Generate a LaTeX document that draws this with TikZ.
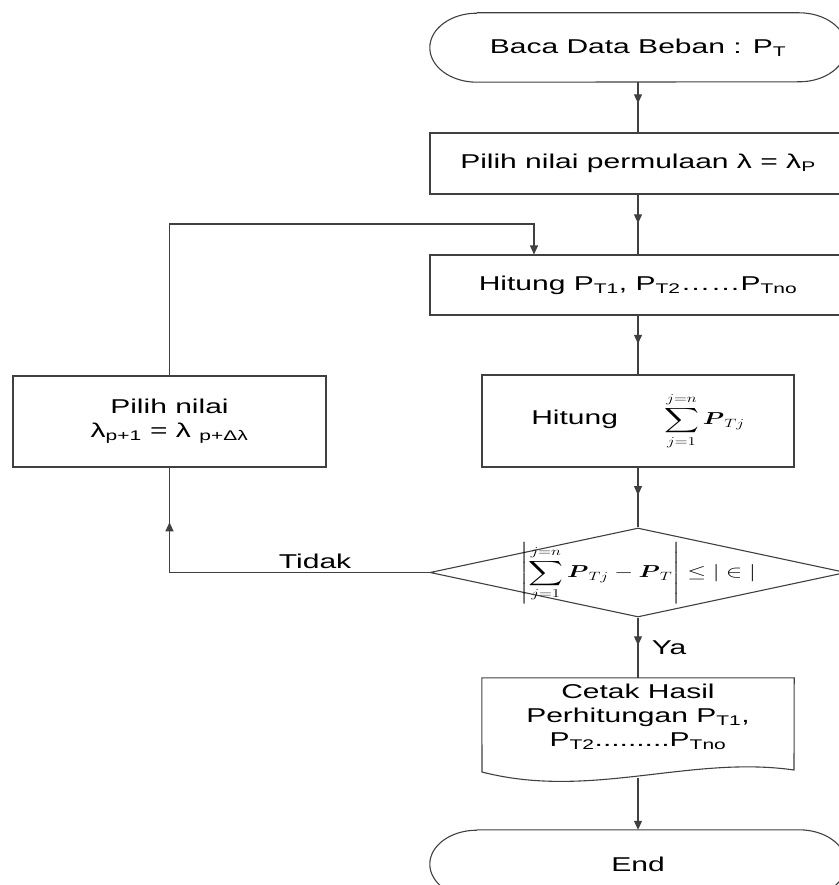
\documentclass[tikz,border=0pt]{standalone}
\usepackage{amsmath, amssymb}
\usepackage{fontspec}
\setmainfont{Liberation Sans}[FakeStretch=1.5]
\usetikzlibrary{arrows.meta, shapes.geometric, decorations.markings}

\begin{document}
\begin{tikzpicture}[x=1pt, y=1pt,
      every node/.style={font=\fontsize{20}{24}\selectfont},
      flowbox/.style={draw=black!75, line width=1.1pt, fill=white, align=center},
      flowline/.style={draw=black!75, line width=1.1pt},
      endarrow/.style={-{Triangle[length=9pt, width=8pt]}},
      midarrow/.style={flowline, postaction={decorate},
        decoration={markings, mark=at position #1 with {\arrow{Triangle[length=9pt, width=8pt]}}}}]
    \useasboundingbox (0,0) rectangle (838,-885);
    % start terminal
    \node[minimum width=416pt, minimum height=69pt] (start) at (638,-47.5) {Baca Data Beban : P\textsubscript{T}};
    \draw[flowline] ([xshift=47pt]start.north west) -- ([xshift=-47pt]start.north east)
        arc[start angle=90, end angle=-90, x radius=47pt, y radius=34.5pt]
        -- ([xshift=47pt]start.south west)
        arc[start angle=270, end angle=90, x radius=47pt, y radius=34.5pt];
    \node[flowbox, minimum width=416pt, minimum height=61pt] (init) at (638,-163.5) {Pilih nilai permulaan λ = λ\textsubscript{P}};
    \node[flowbox, minimum width=416pt, minimum height=60pt] (hitung) at (638,-285) {Hitung P\textsubscript{T1}, P\textsubscript{T2}\ldots\ldots P\textsubscript{Tno}};
    \node[flowbox, minimum width=312pt, minimum height=92pt] (jumlah) at (638,-421)
        {Hitung\hspace{46pt}\scalebox{1.4}[1]{\fontsize{17.28}{20}\selectfont$\displaystyle\sum_{j=1}^{j=n} \boldsymbol{P}_{Tj}$}};
    \node[flowbox, diamond, minimum width=416pt, minimum height=89pt, inner sep=0pt] (cek) at (638,-572.5)
        {\smash{\makebox[0pt]{\raisebox{-5pt}{\scalebox{1.4}[1]{\fontsize{17.28}{20}\selectfont$\displaystyle\left|\sum_{j=1}^{j=n} \boldsymbol{P}_{Tj} - \boldsymbol{P}_{T}\right| \le |\in|$}}}}};
    % print output
    \node[minimum width=312pt, minimum height=78pt, align=center] (cetak) at (638,-717)
        {Cetak Hasil\\Perhitungan P\textsubscript{T1},\\P\textsubscript{T2}.........P\textsubscript{Tno}};
    \draw[flowline] (cetak.north west) -- (cetak.north east) -- (794,-770)
        .. controls (690,-755) and (590,-800) .. (482,-772) -- cycle;
    \coordinate (cetakbot) at (638,-778);
    % end terminal
    \node[minimum width=416pt, minimum height=68pt] (stop) at (638,-864) {End};
    \draw[flowline] ([xshift=47pt]stop.north west) -- ([xshift=-47pt]stop.north east)
        arc[start angle=90, end angle=-90, x radius=47pt, y radius=34pt]
        -- ([xshift=47pt]stop.south west)
        arc[start angle=270, end angle=90, x radius=47pt, y radius=34pt];
    \node[flowbox, minimum width=313pt, minimum height=91pt] (pilih) at (169.5,-421.5)
        {Pilih nilai\\λ\textsubscript{p+1} = λ \textsubscript{p+Δλ}};
    % connectors
    \draw[midarrow=0.42] (start) -- (init);
    \draw[midarrow=0.48] (init) -- (hitung);
    \draw[midarrow=0.48] (hitung) -- (jumlah);
    \draw[midarrow=0.46] (jumlah) -- (cek);
    \draw[midarrow=0.46] (cek) -- node[right=10pt] (ya) {Ya} (cetak);
    \draw[flowline, endarrow] (cetakbot) -- (stop);
    \draw[midarrow=0.85] (cek.west) -| node[pos=0.22, above] (tidak) {Tidak} (pilih.south);
    \coordinate (loop) at (534,-224);
    \draw[flowline, endarrow] (pilih.north) |- (loop) -- (loop |- hitung.north);
  \end{tikzpicture}
\end{document}
